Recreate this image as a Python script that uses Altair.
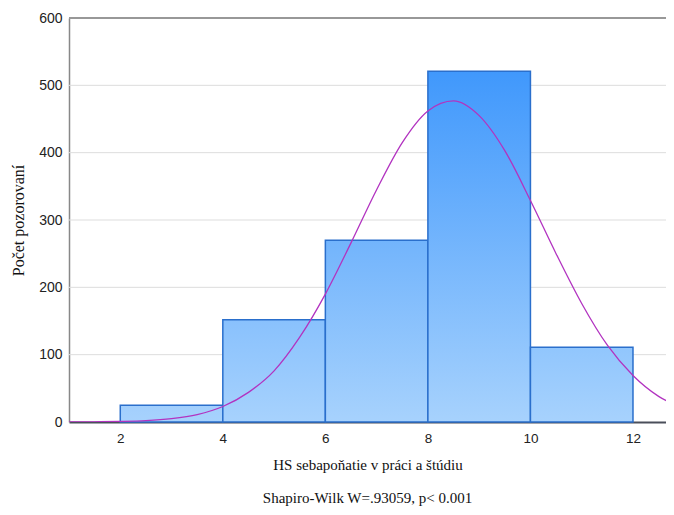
import altair as alt
import pandas as pd

# Histogram bins (lower, upper) and counts
bin_lo = [2, 4, 6, 8, 10]
bin_hi = [4, 6, 8, 10, 12]
counts = [25, 152, 270, 521, 111]

# Fitted normal curve
curve_x = [1, 1.5, 2, 2.5, 3, 3.5, 4, 4.5, 5, 5.5, 6, 6.5, 7, 7.5, 8, 8.5,
           9, 9.5, 10, 10.5, 11, 11.5, 12, 12.5, 13]
curve_y = [0, 0.3, 0.8, 2, 5, 11, 23, 44, 76, 126, 190, 266, 345, 415, 462, 477,
           455, 403, 329, 250, 176, 114, 69, 38, 20]

x_ticks = [2, 4, 6, 8, 10, 12]
y_ticks = [0, 100, 200, 300, 400, 500, 600]
grid_vals = [100, 200, 300, 400, 500]

bars = pd.DataFrame({"lo": bin_lo, "hi": bin_hi, "n": counts})
curve = pd.DataFrame({"x": curve_x, "y": curve_y})
grid = pd.DataFrame({"g": grid_vals})

X_DOM = [1, 12.644]
Y_DOM = [0, 600]

xs = alt.Scale(domain=X_DOM, nice=False, zero=False)
ys = alt.Scale(domain=Y_DOM, nice=False)

bottom_col = (0xA7, 0xD2, 0xFD)
top_col = (0x40, 0x98, 0xFC)  # colour at height 521


def mix(h):
    t = min(h / 521.0, 1.0)
    c = [round(b + (a - b) * t) for a, b in zip(top_col, bottom_col)]
    return "#%02x%02x%02x" % tuple(c)


gridlayer = alt.Chart(grid).mark_rule(color="#dddddd", strokeWidth=1).encode(
    y=alt.Y("g:Q", scale=ys)
)

toprule = alt.Chart(grid).mark_rule(color="#999999", strokeWidth=1.5).encode(
    y=alt.datum(600, scale=ys)
)

bar_layers = []
for lo, hi, n in zip(bin_lo, bin_hi, counts):
    grad = alt.Gradient(
        gradient="linear",
        stops=[alt.GradientStop(color=mix(n), offset=0),
               alt.GradientStop(color=mix(0), offset=1)],
        x1=0, x2=0, y1=0, y2=1,
    )
    bar_layers.append(
        alt.Chart(bars).transform_filter(alt.datum.lo == lo).mark_bar(
            fill=grad, stroke="#2a6fcc", strokeWidth=1.5
        ).encode(
            x=alt.X("lo:Q", scale=xs,
                    axis=alt.Axis(values=x_ticks, title="HS sebapoňatie v práci a štúdiu",
                                  grid=False, ticks=False, labelPadding=9,
                                  labelFont="Liberation Sans", labelFontSize=13.5,
                                  labelColor="#222222",
                                  titleFont="Liberation Serif", titleFontSize=15,
                                  titleFontWeight="normal", titleColor="#111111",
                                  titlePadding=13,
                                  domainColor="#4a4f5a", domainWidth=2)),
            x2="hi:Q",
            y=alt.Y("n:Q", scale=ys,
                    axis=alt.Axis(values=y_ticks, title="Počet pozorovaní",
                                  grid=False, ticks=False, labelPadding=7,
                                  labelFont="Liberation Sans", labelFontSize=14,
                                  labelColor="#222222",
                                  titleFont="Liberation Serif", titleFontSize=16,
                                  titleFontWeight="normal", titleColor="#111111",
                                  titlePadding=12,
                                  domainColor="#888888", domainWidth=1.5)),
            y2=alt.datum(0),
        )
    )

line = alt.Chart(curve).mark_line(color="#b233c0", strokeWidth=1.3, clip=True,
                                  interpolate="monotone").encode(
    x=alt.X("x:Q", scale=xs),
    y=alt.Y("y:Q", scale=ys),
)

chart = alt.layer(gridlayer, *bar_layers, line, toprule).properties(
    width=597,
    height=404,
    autosize=alt.AutoSizeParams(type="none"),
    padding={"left": 61, "top": 10, "right": 0, "bottom": 85},
    title=alt.TitleParams(
        text="Shapiro-Wilk W=.93059, p< 0.001",
        orient="bottom", anchor="middle", offset=18,
        font="Liberation Serif", fontSize=15, fontWeight="normal",
        color="#111111",
    ),
).configure_view(stroke=None)

chart.save("out.html", embed_options={"renderer": "svg", "actions": False})
